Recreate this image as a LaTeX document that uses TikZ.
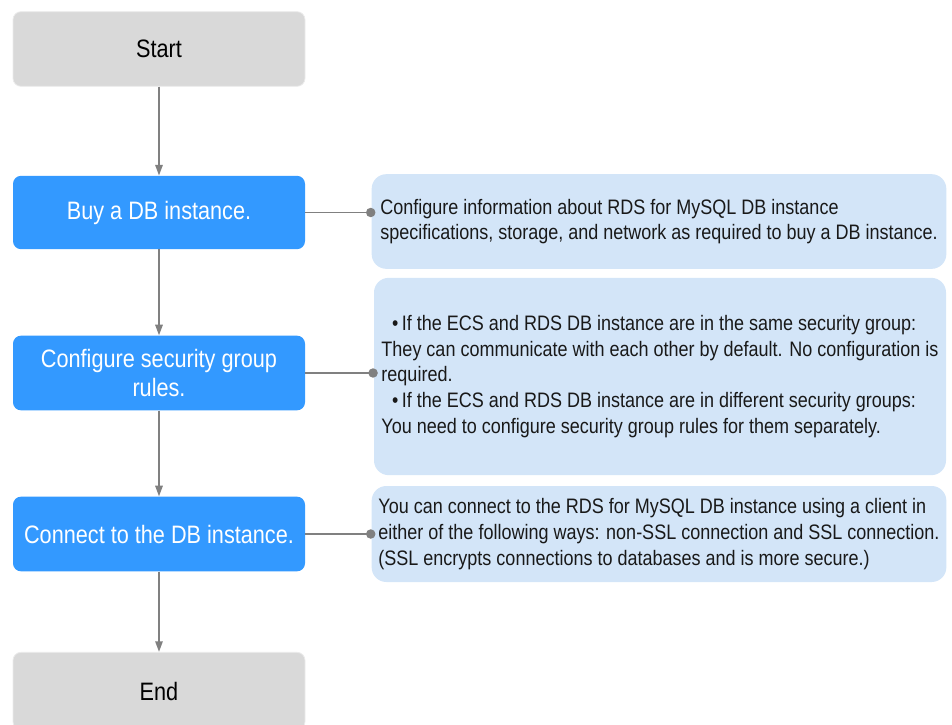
\documentclass[tikz,border=0pt]{standalone}
\usepackage{fontspec}
\setmainfont{Liberation Sans}[FakeStretch=0.86]
\usetikzlibrary{arrows.meta}
\definecolor{stepblue}{HTML}{3399FF}
\definecolor{noteblue}{HTML}{D3E5F8}
\definecolor{termgray}{HTML}{D9D9D9}
\colorlet{linegray}{black!50}
\newcommand{\notebuy}{Configure information about RDS for MySQL DB instance\\
specifications, storage, and network as required to buy a DB instance.}
\newcommand{\notesec}{\hspace*{8pt}\textbullet\,If the ECS and RDS DB instance are in the same security group:\\
They can communicate with each other by default. No configuration is\\
required.\\
\hspace*{8pt}\textbullet\,If the ECS and RDS DB instance are in different security groups:\\
You need to configure security group rules for them separately.}
\newcommand{\noteconn}{You can connect to the RDS for MySQL DB instance using a client in\\
either of the following ways: non-SSL connection and SSL connection.\\
(SSL encrypts connections to databases and is more secure.)}

\begin{document}
\begin{tikzpicture}[x=0.75pt,y=-0.75pt,
    any/.style={minimum width=219pt,minimum height=56pt,%
                rounded corners=6pt,inner sep=0pt,align=center,%
                font=\fontsize{18.9}{22}\selectfont},
    terminal/.style={any,fill=termgray,draw=black!8,line width=0.6pt},
    stepbox/.style={any,fill=stepblue,text=white},
    note/.style={fill=noteblue,rounded corners=11pt,inner sep=0pt,%
                 minimum width=431pt,align=left,text=black!90,%
                 font=\fontsize{15.7}{19.3}\selectfont},
    flow/.style={draw=linegray,line width=1.4pt,-{Triangle[length=8pt,width=5.5pt]}},
    link/.style={draw=linegray,line width=1.4pt,-{Circle[length=7pt]}}
]
\clip (0,0) rectangle (952,724);

% main steps
\node[terminal] (start) at (159,49) {Start};
\node[stepbox, minimum height=55pt] (buy) at (159,212.5) {Buy a DB instance.};
\node[stepbox] (sec) at (159,373) {Configure security group\\ rules.};
\node[stepbox] (conn) at (159,534) {Connect to the DB instance.};
\node[terminal, minimum height=58pt] (end) at (159,691) {End};

% notes
\node[note, minimum height=71pt] (nbuy) at (659,221.5) {\notebuy};
\node[note, minimum height=148pt, minimum width=429pt] (nsec) at (660,376.5) {\notesec};
\node[note, minimum height=72pt] (nconn) at (659,534) {\noteconn};

\draw[flow] (start) -- (buy);
\draw[flow] (buy) -- (sec);
\draw[flow] (sec) -- (conn);
\draw[flow] (conn) -- (end);

\draw[link] (buy.east) -- ([xshift=3pt]buy.east -| nbuy.west);
\draw[link] (sec.east) -- ([xshift=3pt]sec.east -| nsec.west);
\draw[link] (conn.east) -- ([xshift=3pt]conn.east -| nconn.west);

\end{tikzpicture}
\end{document}
